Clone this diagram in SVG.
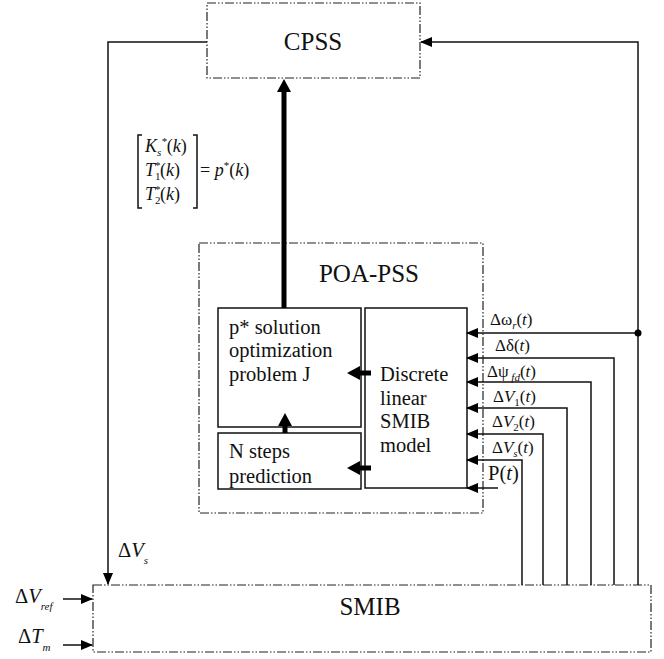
<svg xmlns="http://www.w3.org/2000/svg" width="664" height="659" viewBox="0 0 664 659">
<defs>
<style>
.dd{fill:none;stroke:#222;stroke-width:1.2;stroke-dasharray:9 2 1.5 2 1.5 2}
.bx{fill:none;stroke:#111;stroke-width:1.5}
.ln{fill:none;stroke:#111;stroke-width:1.5}
.tk{fill:none;stroke:#000;stroke-width:5}
text{font-family:"Liberation Serif","Times New Roman",serif;fill:#111}
.big{font-size:25px}
.mid{font-size:20.5px}
.lab{font-size:17px}
.mx{font-size:18px}
.it{font-style:italic}
.sub{font-size:11px;font-style:italic}
</style>
<marker id="ah" markerUnits="userSpaceOnUse" markerWidth="12" markerHeight="10" refX="11" refY="5" orient="auto"><path d="M0,0 L12,5 L0,10 z" fill="#000"/></marker>
<marker id="th" markerUnits="userSpaceOnUse" markerWidth="13" markerHeight="14" refX="0" refY="7" orient="auto"><path d="M0,0 L13,7 L0,14 z" fill="#000"/></marker>
</defs>

<g id="cpss">
<rect class="dd" x="207" y="3" width="213" height="75"/>
<text class="big" x="313" y="50" text-anchor="middle">CPSS</text>
</g>

<g id="poa-pss">
<rect class="dd" x="199" y="243" width="284" height="270"/>
<text class="big" x="369" y="282" text-anchor="middle" font-size="26">POA-PSS</text>
</g>

<g id="p-solution">
<rect class="bx" x="218" y="308" width="143" height="119"/>
<text class="mid" x="229" y="334">p* solution</text>
<text class="mid" x="229" y="357">optimization</text>
<text class="mid" x="229" y="381">problem J</text>
</g>

<g id="n-steps">
<rect class="bx" x="218" y="433" width="143" height="56"/>
<text class="mid" x="229" y="458">N steps</text>
<text class="mid" x="229" y="483">prediction</text>
</g>

<g id="discrete">
<rect class="bx" x="365" y="308" width="102" height="180"/>
<text class="mid" x="380" y="381">Discrete</text>
<text class="mid" x="380" y="405">linear</text>
<text class="mid" x="380" y="428">SMIB</text>
<text class="mid" x="380" y="452">model</text>
</g>

<g id="smib">
<rect class="dd" x="93" y="585" width="558" height="67"/>
<text class="big" x="370" y="615" text-anchor="middle">SMIB</text>
</g>

<g id="pk-label">
<path class="ln" d="M142,135 H138 V208 H142 M193,135 H197 V208 H193" stroke-width="1.2"/>
<text class="mx it" x="145" y="152">K<tspan class="sub" dy="4">s</tspan><tspan font-size="11" dy="-11">*</tspan><tspan dy="7" font-style="normal">(</tspan>k<tspan font-style="normal">)</tspan></text>
<text class="mx it" x="145" y="176">T<tspan font-size="11" font-style="normal" dy="4">1</tspan><tspan font-size="11" dx="-6" dy="-11">*</tspan><tspan dy="7" font-style="normal">(</tspan>k<tspan font-style="normal">)</tspan></text>
<text class="mx it" x="145" y="200">T<tspan font-size="11" font-style="normal" dy="4">2</tspan><tspan font-size="11" dx="-6" dy="-11">*</tspan><tspan dy="7" font-style="normal">(</tspan>k<tspan font-style="normal">)</tspan></text>
<text class="mx" x="200" y="176">= <tspan class="it">p</tspan><tspan font-size="11" dy="-7">*</tspan><tspan dy="7">(</tspan><tspan class="it">k</tspan>)</text>
</g>

<g id="connectors">
<line class="tk" x1="284" y1="308" x2="284" y2="92" marker-end="url(#th)"/>
<line class="tk" x1="371" y1="373" x2="360" y2="373" marker-end="url(#th)"/>
<line class="tk" x1="371" y1="468" x2="360" y2="468" marker-end="url(#th)"/>
<line class="tk" x1="285" y1="433" x2="285" y2="426" marker-end="url(#th)"/>
<polyline class="ln" points="207,42 108,42 108,584" marker-end="url(#ah)"/>
<polyline class="ln" points="638,585 638,42 421,42" marker-end="url(#ah)"/>
<line class="ln" x1="638" y1="333" x2="467" y2="333" marker-end="url(#ah)"/>
<circle cx="638" cy="333" r="3.5" fill="#000"/>
<polyline class="ln" points="614,585 614,358 467,358" marker-end="url(#ah)"/>
<polyline class="ln" points="591,585 591,382 467,382" marker-end="url(#ah)"/>
<polyline class="ln" points="567,585 567,408 467,408" marker-end="url(#ah)"/>
<polyline class="ln" points="543,585 543,434 467,434" marker-end="url(#ah)"/>
<polyline class="ln" points="522,585 522,460 467,460" marker-end="url(#ah)"/>
<line class="ln" x1="498" y1="488" x2="467" y2="488" marker-end="url(#ah)"/>
<line class="ln" x1="63" y1="599" x2="92" y2="599" marker-end="url(#ah)"/>
<line class="ln" x1="63" y1="645" x2="92" y2="645" marker-end="url(#ah)"/>
</g>

<g id="labels">
<text class="lab" x="490" y="325">Δω<tspan class="sub" dy="4">r</tspan><tspan dy="-4">(</tspan><tspan class="it">t</tspan>)</text>
<text class="lab" x="495" y="351">Δδ(<tspan class="it">t</tspan>)</text>
<text class="lab" x="487" y="377">Δψ<tspan class="sub" dy="4"> fd</tspan><tspan dy="-4">(</tspan><tspan class="it">t</tspan>)</text>
<text class="lab" x="493" y="402">Δ<tspan class="it">V</tspan><tspan font-size="11" dy="4">1</tspan><tspan dy="-4">(</tspan><tspan class="it">t</tspan>)</text>
<text class="lab" x="492" y="427">Δ<tspan class="it">V</tspan><tspan font-size="11" dy="4">2</tspan><tspan dy="-4">(</tspan><tspan class="it">t</tspan>)</text>
<text class="lab" x="492" y="453">Δ<tspan class="it">V</tspan><tspan class="sub" dy="4">s</tspan><tspan dy="-4">(</tspan><tspan class="it">t</tspan>)</text>
<text class="mid" x="488" y="480">P(<tspan class="it">t</tspan>)</text>
<text class="mid" x="118" y="557">Δ<tspan class="it">V</tspan><tspan class="sub" font-size="13" dy="7">s</tspan></text>
<text class="mid" x="15" y="603">Δ<tspan class="it">V</tspan><tspan class="sub" font-size="13" dy="7">ref</tspan></text>
<text class="mid" x="18" y="643">Δ<tspan class="it">T</tspan><tspan class="sub" font-size="13" dy="8">m</tspan></text>
</g>
</svg>
